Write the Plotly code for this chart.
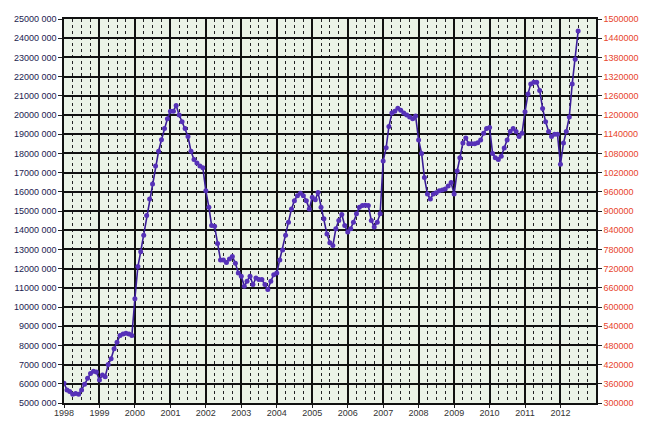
import plotly.graph_objects as go
import pandas as pd

# Monthly values (in units), Jan 1998 .. Jul 2012
v1998 = [6.03, 5.68, 5.60, 5.46, 5.50, 5.46, 5.68, 5.98, 6.29, 6.54, 6.66, 6.62]
v1999 = [6.20, 6.46, 6.37, 7.00, 7.31, 7.83, 8.17, 8.51, 8.60, 8.63, 8.60, 8.51]
v2000 = [10.43, 12.11, 12.88, 13.74, 14.77, 15.63, 16.40, 17.34, 18.11, 18.71, 19.30, 19.80]
v2001 = [20.20, 20.20, 20.50, 20.00, 19.65, 19.30, 18.88, 18.11, 17.68, 17.50, 17.34, 17.25]
v2002 = [16.05, 15.20, 14.25, 14.20, 13.31, 12.45, 12.45, 12.32, 12.50, 12.63, 12.28, 11.77]
v2003 = [11.60, 11.08, 11.34, 11.60, 11.17, 11.51, 11.43, 11.43, 11.17, 10.91, 11.34, 11.68]
v2004 = [11.77, 12.45, 12.97, 13.74, 14.42, 15.11, 15.54, 15.80, 15.92, 15.80, 15.54, 15.11]
v2005 = [15.71, 15.58, 15.97, 15.20, 14.60, 13.80, 13.35, 13.20, 14.08, 14.51, 14.82, 14.25]
v2006 = [13.90, 14.08, 14.42, 14.86, 15.20, 15.28, 15.30, 15.28, 14.51, 14.17, 14.42, 14.86]
v2007 = [17.60, 18.30, 19.40, 20.10, 20.20, 20.35, 20.25, 20.10, 20.00, 19.90, 19.80, 19.95]
v2008 = [18.70, 18.00, 16.74, 15.88, 15.63, 15.88, 15.95, 16.05, 16.10, 16.14, 16.30, 16.48]
v2009 = [15.88, 17.08, 17.77, 18.54, 18.80, 18.50, 18.50, 18.50, 18.55, 18.70, 19.05, 19.30]
v2010 = [19.35, 18.00, 17.77, 17.68, 17.85, 18.28, 18.70, 19.14, 19.30, 19.14, 18.88, 19.05]
v2011 = [20.17, 21.10, 21.62, 21.70, 21.70, 21.28, 20.34, 19.65, 19.14, 18.88, 19.00, 19.00]
v2012 = [17.43, 18.54, 19.14, 19.90, 21.62, 22.90, 24.37]

values_mln = (v1998 + v1999 + v2000 + v2001 + v2002 + v2003 + v2004 + v2005 +
              v2006 + v2007 + v2008 + v2009 + v2010 + v2011 + v2012)
values = [v * 1_000_000 for v in values_mln]
dates = pd.date_range("1998-01-01", periods=len(values), freq="MS")

years = ["1998", "1999", "2000", "2001", "2002", "2003", "2004", "2005",
         "2006", "2007", "2008", "2009", "2010", "2011", "2012"]

left_ticks = [5000000, 6000000, 7000000, 8000000, 9000000, 10000000, 11000000,
              12000000, 13000000, 14000000, 15000000, 16000000, 17000000,
              18000000, 19000000, 20000000, 21000000, 22000000, 23000000,
              24000000, 25000000]
left_labels = ["5000 000", "6000 000", "7000 000", "8000 000", "9000 000",
               "10000 000", "11000 000", "12000 000", "13000 000", "14000 000",
               "15000 000", "16000 000", "17000 000", "18000 000", "19000 000",
               "20000 000", "21000 000", "22000 000", "23000 000", "24000 000",
               "25000 000"]
right_ticks = [300000, 360000, 420000, 480000, 540000, 600000, 660000, 720000,
               780000, 840000, 900000, 960000, 1020000, 1080000, 1140000,
               1200000, 1260000, 1320000, 1380000, 1440000, 1500000]
right_labels = [str(t) for t in right_ticks]

fig = go.Figure()
fig.add_trace(go.Scatter(
    x=dates, y=values, mode="lines+markers",
    line=dict(color="#3b1d98", width=1.6),
    marker=dict(color="#5631b8", size=5, line=dict(width=0)),
    showlegend=False, hoverinfo="x+y"))
fig.add_trace(go.Scatter(x=[], y=[], yaxis="y2", showlegend=False))

grid_c = "#111111"
fig.update_layout(
    width=650, height=430,
    margin=dict(l=55, r=62, t=6, b=35),
    paper_bgcolor="white", plot_bgcolor="#ebf3e7",
    font=dict(family="Liberation Sans, Arial, sans-serif", size=9),
    xaxis=dict(
        type="date",
        range=["1998-01-01", "2013-01-01"],
        tickvals=[f"{y}-01-01" for y in years],
        ticktext=years,
        showgrid=True, gridcolor=grid_c, gridwidth=1.5,
        minor=dict(dtick="M3", showgrid=True, gridcolor="#222222",
                   griddash="dot", gridwidth=1, ticks=""),
        ticks="outside", ticklen=3, tickcolor="#222",
        ticklabelstandoff=-3,
        showline=True, linecolor="#111", linewidth=1.5, mirror=True,
        tickfont=dict(color="#333", size=9),
        zeroline=False,
    ),
    yaxis=dict(
        range=[5000000, 25000000],
        tickvals=left_ticks, ticktext=left_labels,
        showgrid=True, gridcolor=grid_c, gridwidth=1.5,
        ticks="outside", ticklen=4, tickcolor="#222",
        showline=True, linecolor="#111", linewidth=1.5,
        tickfont=dict(color="#1c1c50", size=9),
        zeroline=False,
    ),
    yaxis2=dict(
        overlaying="y", side="right",
        range=[300000, 1500000],
        tickvals=right_ticks, ticktext=right_labels,
        showgrid=False,
        ticks="outside", ticklen=4, tickcolor="#222",
        showline=True, linecolor="#111", linewidth=1.5,
        tickfont=dict(color="#e8442c", size=9),
        zeroline=False,
    ),
)

fig.write_html("out.html")
